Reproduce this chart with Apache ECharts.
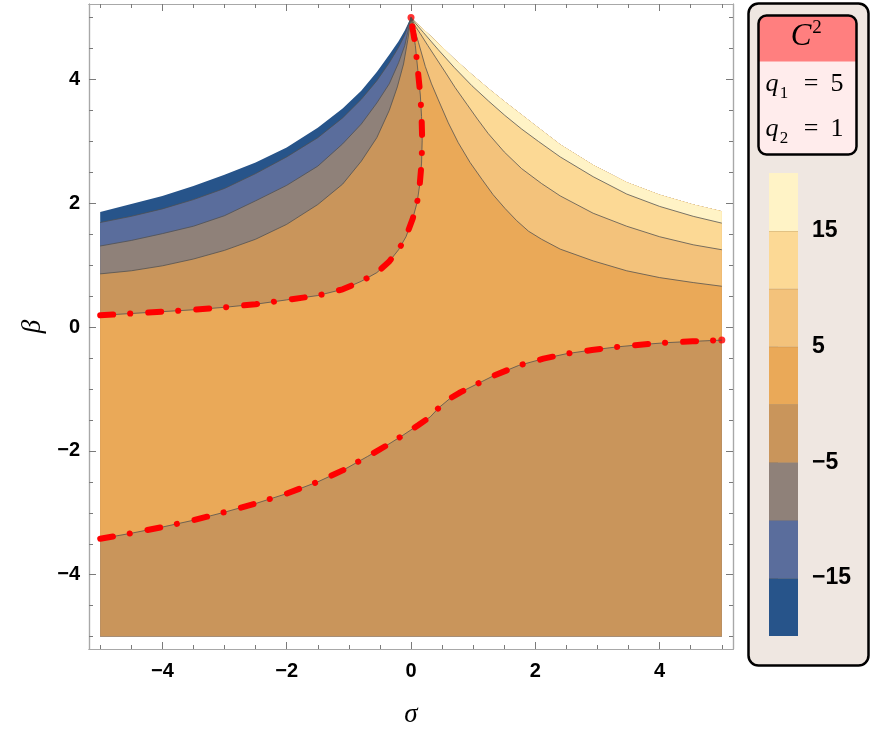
<!DOCTYPE html>
<html>
<head>
<meta charset="utf-8">
<script src="https://cdn.jsdelivr.net/npm/echarts@6/dist/echarts.min.js"></script>
<style>
  html, body { margin: 0; padding: 0; background: #fff; }
  #chart { width: 872px; height: 742px; }
</style>
</head>
<body>
<div id="chart"></div>
<script>
// contour levels of C^2 and the colour of each band (lowest first)
const levels = [-20, -15, -10, -5, 0, 5, 10, 15, 20]
const bandColors = ['#27548a', '#5a6d9c', '#8f8179', '#c9955b', '#eaa958', '#f3c27b', '#fcd995', '#fff3c6']

// tick values
const majorTicks = [-4, -2, 0, 2, 4]
const minorTicks = [-5, -4.5, -3.5, -3, -2.5, -1.5, -1, -0.5, 0.5, 1, 1.5, 2.5, 3, 3.5, 4.5, 5]
const barTicks = [-15, -5, 5, 15]

// plotted region
const sigmaSpan = [-5, 5]
const betaFloor = -5

// border of the real region (white above it), [sigma, beta]
const edgeLeft = [[-5, 1.86], [-4.5, 1.99], [-4, 2.12], [-3.5, 2.28], [-3, 2.46], [-2.5, 2.66], [-2, 2.9], [-1.5, 3.22], [-1.1, 3.53], [-0.8, 3.82], [-0.55, 4.12], [-0.35, 4.4], [-0.2, 4.62], [-0.1, 4.79], [0, 5]]
const edgeRight = [[0, 5], [0.08, 4.92], [0.2, 4.81], [0.32, 4.7], [0.44, 4.58], [0.7, 4.33], [0.98, 4.08], [1.25, 3.85], [1.51, 3.64], [1.78, 3.43], [2.05, 3.22], [2.4, 2.95], [2.93, 2.62], [3.47, 2.34], [4, 2.14], [4.54, 1.98], [5, 1.87]]

// contour lines, left family runs sigma=-5 -> peak
const contourM15 = [[-5, 1.69], [-4.5, 1.79], [-4, 1.91], [-3.5, 2.06], [-3, 2.24], [-2.5, 2.48], [-2, 2.75], [-1.5, 3.06], [-1.1, 3.38], [-0.8, 3.68], [-0.55, 3.98], [-0.35, 4.27], [-0.2, 4.52], [-0.1, 4.72], [0, 5]]
const contourM10 = [[-5, 1.31], [-4.5, 1.4], [-4, 1.51], [-3.5, 1.63], [-3, 1.8], [-2.5, 2.04], [-2, 2.29], [-1.5, 2.6], [-1.1, 2.96], [-0.8, 3.28], [-0.55, 3.62], [-0.35, 3.93], [-0.2, 4.27], [-0.1, 4.55], [0, 5]]
const contourM5 = [[-5, 0.86], [-4.5, 0.91], [-4, 0.99], [-3.5, 1.1], [-3, 1.24], [-2.5, 1.42], [-2, 1.66], [-1.5, 1.98], [-1.1, 2.31], [-0.8, 2.68], [-0.55, 3.06], [-0.35, 3.5], [-0.22, 3.88], [-0.12, 4.25], [-0.05, 4.65], [0, 5]]
const zeroUpper = [[-5, 0.19], [-4.5, 0.22], [-4, 0.25], [-3.5, 0.28], [-3, 0.32], [-2.5, 0.37], [-2, 0.44], [-1.5, 0.51], [-1.1, 0.61], [-0.8, 0.74], [-0.55, 0.88], [-0.35, 1.06], [-0.2, 1.25], [-0.08, 1.46], [0.03, 1.76], [0.1, 2.02], [0.14, 2.3], [0.17, 2.65], [0.18, 3.02], [0.17, 3.4], [0.15, 3.75], [0.11, 4.15], [0.07, 4.55], [0.03, 4.8], [0, 5]]
const zeroLower = [[-5, -3.42], [-4.5, -3.33], [-4, -3.23], [-3.5, -3.12], [-3, -2.99], [-2.5, -2.85], [-2, -2.69], [-1.5, -2.5], [-1.09, -2.31], [-0.7, -2.09], [-0.39, -1.91], [-0.15, -1.76], [0.12, -1.58], [0.31, -1.45], [0.45, -1.3], [0.63, -1.15], [0.8, -1.05], [0.98, -0.96], [1.32, -0.79], [1.73, -0.62], [2.13, -0.51], [2.5, -0.43], [2.91, -0.37], [3.31, -0.32], [3.73, -0.28], [4.13, -0.25], [4.53, -0.23], [5, -0.21]]
// right family runs peak -> sigma=5
const contourP5 = [[0, 5], [0.05, 4.83], [0.12, 4.6], [0.23, 4.21], [0.33, 3.93], [0.44, 3.67], [0.6, 3.3], [0.76, 2.98], [0.95, 2.66], [1.14, 2.39], [1.32, 2.14], [1.51, 1.92], [1.7, 1.72], [1.89, 1.55], [2.1, 1.42], [2.4, 1.26], [2.93, 1.07], [3.47, 0.91], [4, 0.8], [4.54, 0.72], [5, 0.66]]
const contourP10 = [[0, 5], [0.07, 4.86], [0.15, 4.74], [0.27, 4.55], [0.4, 4.35], [0.55, 4.12], [0.71, 3.87], [0.9, 3.6], [1.07, 3.36], [1.24, 3.13], [1.5, 2.83], [1.78, 2.56], [2.1, 2.32], [2.4, 2.12], [2.93, 1.84], [3.47, 1.63], [4, 1.46], [4.54, 1.33], [5, 1.25]]
const contourP15 = [[0, 5], [0.08, 4.9], [0.2, 4.76], [0.32, 4.62], [0.44, 4.48], [0.7, 4.19], [0.98, 3.9], [1.25, 3.65], [1.51, 3.42], [1.78, 3.2], [2.05, 3.0], [2.4, 2.75], [2.93, 2.43], [3.47, 2.15], [4, 1.95], [4.54, 1.79], [5, 1.68]]

// superlevel sets painted from lowest to highest level
const bottom = [[sigmaSpan[1], betaFloor], [sigmaSpan[0], betaFloor]]
const below = curve => curve.concat(edgeRight.slice(1), bottom)
const layers = [
  { band: 0, pts: below(edgeLeft) },
  { band: 1, pts: below(contourM15) },
  { band: 2, pts: below(contourM10) },
  { band: 3, pts: below(contourM5) },
  { band: 4, pts: zeroUpper.concat(edgeRight.slice(1), zeroLower.slice().reverse()) },
  { band: 5, pts: edgeRight.concat(contourP5.slice().reverse()) },
  { band: 6, pts: edgeRight.concat(contourP10.slice().reverse()) },
  { band: 7, pts: edgeRight.concat(contourP15.slice().reverse()) }
]
const bands = levels.slice(0, -1).map((lo, i) => [lo, levels[i + 1]])
// red dots where the zero curves end
const zeroEnds = [zeroUpper[zeroUpper.length - 1], zeroLower[zeroLower.length - 1]]

const xRange = [-5.18, 5.18]
const yRange = [-5.2, 5.22]
const minus = v => String(v).replace('-', '\u2212')
const tickFont = { fontFamily: '"Liberation Sans", Arial, sans-serif', fontWeight: 'bold', fontSize: 20, color: '#000' }

function frameAxis(dim, position, ticks, len, showLabels) {
  const range = dim === 'x' ? xRange : yRange
  return {
    gridIndex: 0,
    type: 'value',
    position: position,
    min: range[0],
    max: range[1],
    z: 5,
    axisLine: { show: true, onZero: false, lineStyle: { color: '#a8a8a8', width: 1.2 } },
    axisTick: { show: true, inside: true, length: len, customValues: ticks, lineStyle: { color: '#7a7a7a', width: 1 } },
    axisLabel: Object.assign({ show: showLabels, customValues: majorTicks, formatter: minus, margin: dim === 'x' ? 12 : 9 }, tickFont),
    splitLine: { show: false }
  }
}

const xMain = frameAxis('x', 'bottom', majorTicks, 7, true)
xMain.name = 'σ'
xMain.nameLocation = 'middle'
xMain.nameGap = 52
xMain.nameTextStyle = { fontFamily: '"Liberation Serif", serif', fontStyle: 'italic', fontSize: 27, color: '#000' }

const yMain = frameAxis('y', 'left', majorTicks, 7, true)
yMain.name = 'β'
yMain.nameLocation = 'middle'
yMain.nameGap = 42
yMain.nameTextStyle = { fontFamily: '"Liberation Serif", serif', fontStyle: 'italic', fontSize: 27, color: '#000' }

const lineSeries = (data, style) => ({
  type: 'line', data: data, xAxisIndex: 0, yAxisIndex: 0,
  showSymbol: false, symbol: 'none', silent: true, lineStyle: style
})

const chart = echarts.init(document.getElementById('chart'))
chart.setOption({
  animation: false,
  backgroundColor: '#fff',
  grid: [
    { left: 89, top: 4, width: 644, height: 645 },
    { left: 769, top: 173, width: 29, height: 463 }
  ],
  xAxis: [
    xMain,
    frameAxis('x', 'bottom', minorTicks, 4, false),
    frameAxis('x', 'top', majorTicks, 7, false),
    frameAxis('x', 'top', minorTicks, 4, false),
    { gridIndex: 1, type: 'value', min: 0, max: 1, show: false }
  ],
  yAxis: [
    yMain,
    frameAxis('y', 'left', minorTicks, 4, false),
    frameAxis('y', 'right', majorTicks, 7, false),
    frameAxis('y', 'right', minorTicks, 4, false),
    {
      gridIndex: 1, type: 'value', position: 'right',
      min: levels[0], max: levels[levels.length - 1],
      axisLine: { show: true, lineStyle: { opacity: 0 } },
      splitLine: { show: false },
      axisTick: { show: true, customValues: barTicks, length: 9, lineStyle: { color: '#b5b5b5' } },
      axisLabel: Object.assign({ customValues: barTicks, formatter: minus, margin: 14 }, tickFont, { fontSize: 23 })
    }
  ],
  graphic: [
    { type: 'rect', z: 0, shape: { x: 748.5, y: 3.5, width: 120, height: 662, r: 10 }, style: { fill: '#efe7e1', stroke: '#000', lineWidth: 2.5 } },
    { type: 'rect', z: 1, shape: { x: 758.5, y: 15.5, width: 98, height: 139, r: 8 }, style: { fill: '#ffecec' } },
    { type: 'rect', z: 1, shape: { x: 758.5, y: 15.5, width: 98, height: 46, r: [8, 8, 0, 0] }, style: { fill: '#ff7f7f' } },
    { type: 'rect', z: 1, shape: { x: 758.5, y: 15.5, width: 98, height: 139, r: 8 }, style: { fill: 'transparent', stroke: '#000', lineWidth: 2.5 } },
    { type: 'text', z: 3, style: { text: 'C', x: 801, y: 37, align: 'center', verticalAlign: 'middle', font: 'italic 31px "Liberation Serif"', fill: '#000' } },
    { type: 'text', z: 3, style: { text: '2', x: 817, y: 28, align: 'center', verticalAlign: 'middle', font: '19px "Liberation Serif"', fill: '#000' } },
    { type: 'text', z: 3, style: { text: 'q', x: 772, y: 84, align: 'center', verticalAlign: 'middle', font: 'italic 26px "Liberation Serif"', fill: '#000' } },
    { type: 'text', z: 3, style: { text: '1', x: 784, y: 94, align: 'center', verticalAlign: 'middle', font: '17px "Liberation Serif"', fill: '#000' } },
    { type: 'text', z: 3, style: { text: '=', x: 811, y: 84, align: 'center', verticalAlign: 'middle', font: '26px "Liberation Serif"', fill: '#000' } },
    { type: 'text', z: 3, style: { text: '5', x: 837, y: 84, align: 'center', verticalAlign: 'middle', font: '26px "Liberation Serif"', fill: '#000' } },
    { type: 'text', z: 3, style: { text: 'q', x: 772, y: 129, align: 'center', verticalAlign: 'middle', font: 'italic 26px "Liberation Serif"', fill: '#000' } },
    { type: 'text', z: 3, style: { text: '2', x: 784, y: 139, align: 'center', verticalAlign: 'middle', font: '17px "Liberation Serif"', fill: '#000' } },
    { type: 'text', z: 3, style: { text: '=', x: 811, y: 129, align: 'center', verticalAlign: 'middle', font: '26px "Liberation Serif"', fill: '#000' } },
    { type: 'text', z: 3, style: { text: '1', x: 837, y: 129, align: 'center', verticalAlign: 'middle', font: '26px "Liberation Serif"', fill: '#000' } }
  ],
  series: [
    {
      type: 'custom',
      xAxisIndex: 0,
      yAxisIndex: 0,
      clip: true,
      silent: true,
      data: layers.map((l, i) => [i, 0]),
      renderItem: function (params, api) {
        const layer = layers[params.dataIndex]
        return {
          type: 'polygon',
          shape: { points: layer.pts.map(p => api.coord(p)) },
          style: { fill: bandColors[layer.band] }
        }
      }
    },
    ...[contourM15, contourM10, contourM5, zeroUpper, zeroLower, contourP5, contourP10, contourP15].map(d =>
      lineSeries(d, { color: '#4f4f4f', width: 0.9, opacity: 0.85 })),
    ...[zeroUpper, zeroLower].map(d =>
      lineSeries(d, { color: '#ff0000', width: 6, type: [13, 17, 0.1, 18], cap: 'round' })),
    {
      type: 'scatter',
      xAxisIndex: 0,
      yAxisIndex: 0,
      silent: true,
      data: zeroEnds,
      symbol: 'circle',
      symbolSize: 7,
      itemStyle: { color: '#ff0000' }
    },
    {
      type: 'custom',
      xAxisIndex: 4,
      yAxisIndex: 4,
      silent: true,
      data: bands,
      renderItem: function (params, api) {
        const lo = api.value(0)
        const hi = api.value(1)
        const a = api.coord([0, hi])
        const b = api.coord([1, lo])
        const children = [{
          type: 'rect',
          shape: { x: a[0], y: a[1], width: b[0] - a[0], height: b[1] - a[1] },
          style: { fill: bandColors[params.dataIndex] }
        }]
        if (hi < levels[levels.length - 1]) {
          children.push({
            type: 'line',
            shape: { x1: a[0], y1: a[1], x2: b[0], y2: a[1] },
            style: { stroke: 'rgba(60,40,20,0.35)', lineWidth: 1 }
          })
        }
        return { type: 'group', children: children }
      }
    }
  ]
})
</script>
</body>
</html>
